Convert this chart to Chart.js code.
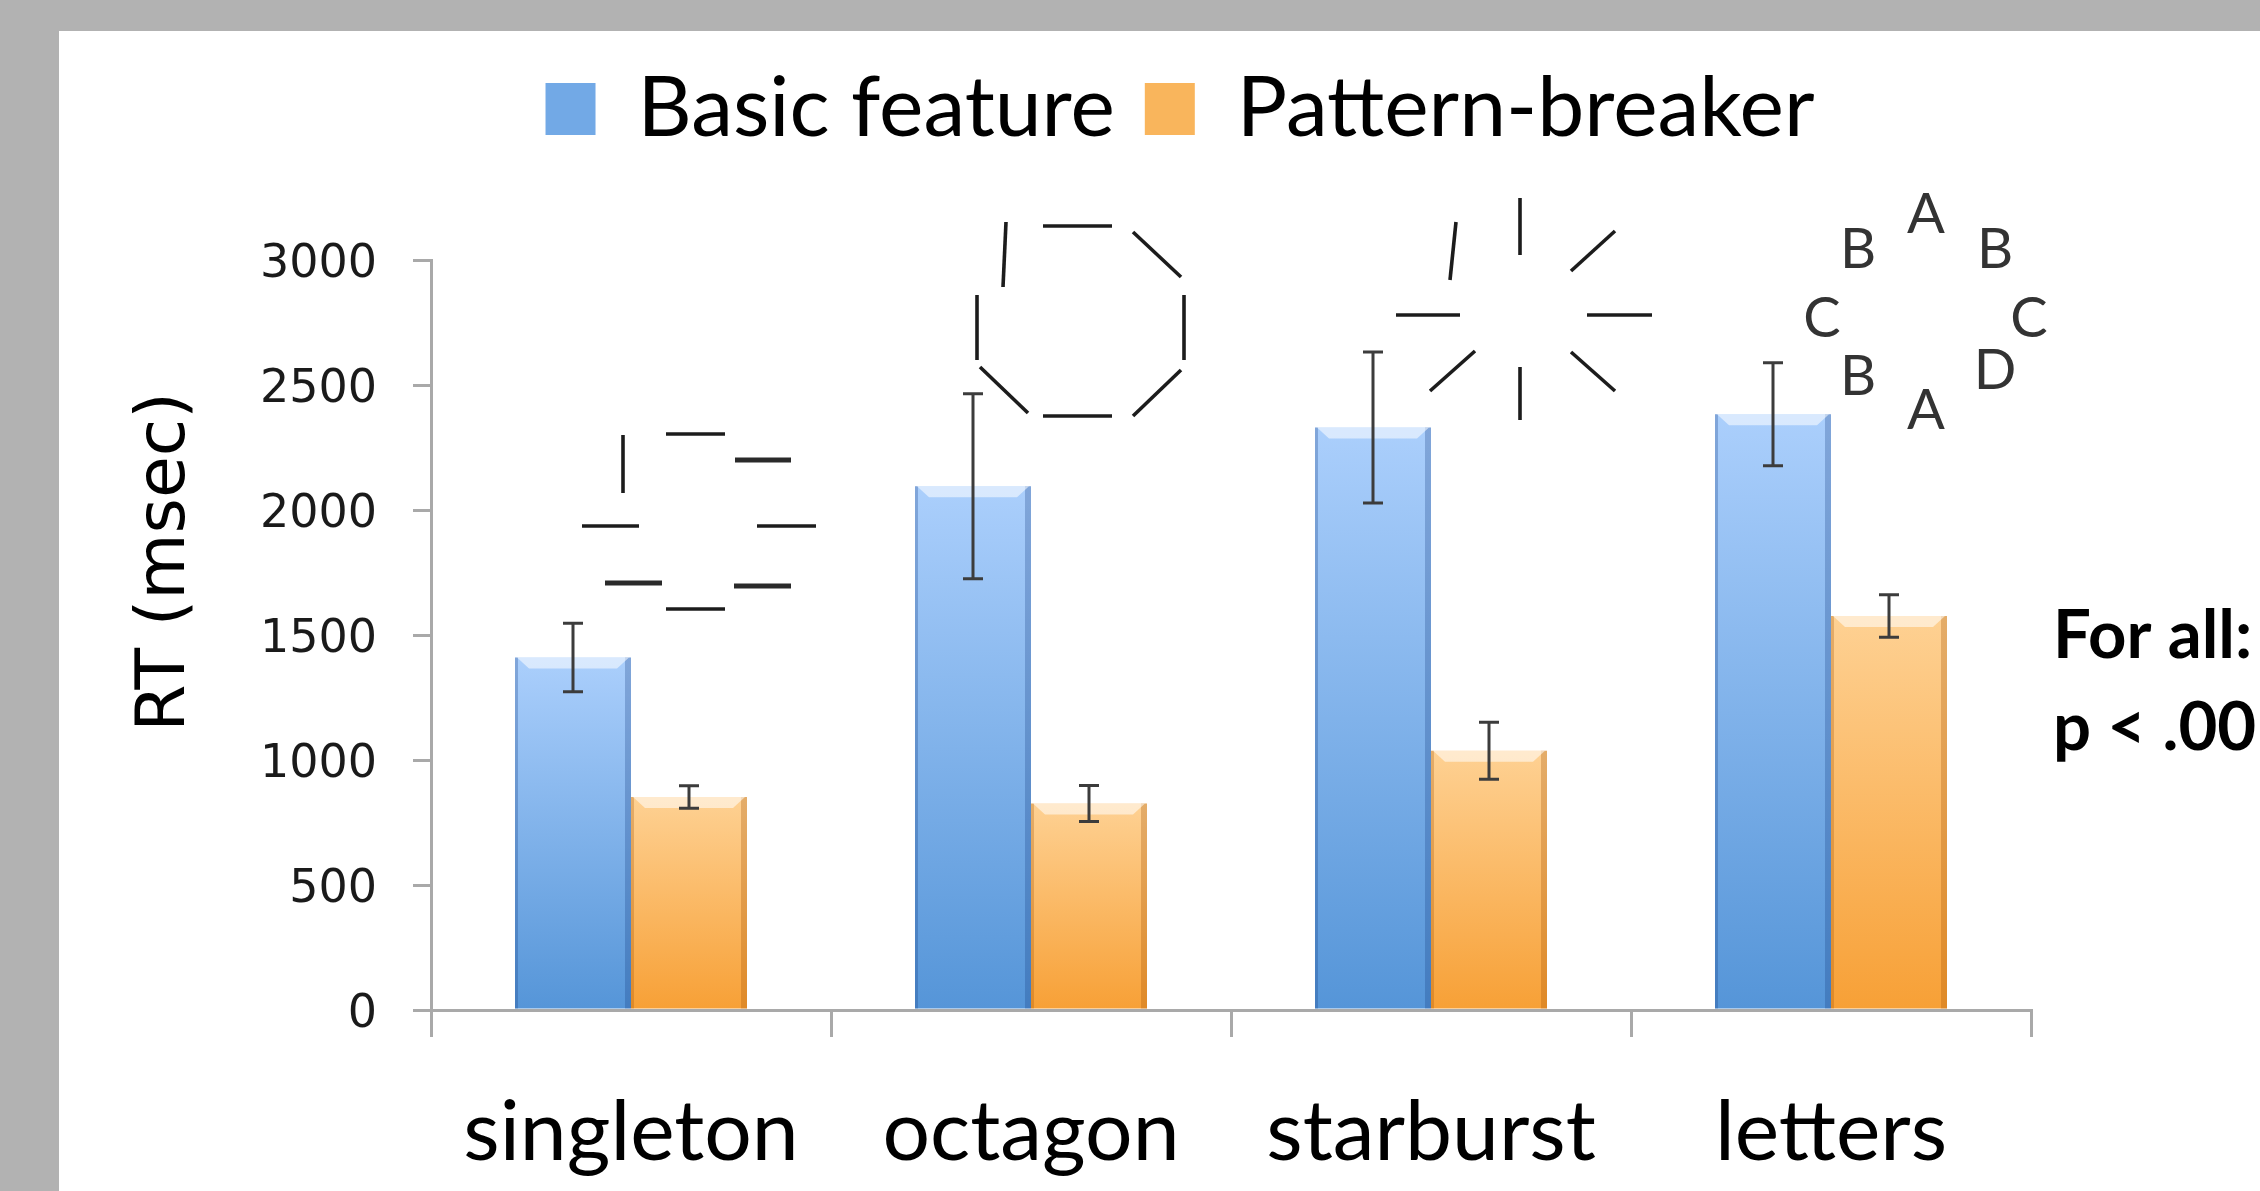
<!DOCTYPE html>
<html><head><meta charset="utf-8">
<script src="https://cdn.jsdelivr.net/npm/chart.js@4.4.1/dist/chart.umd.min.js"></script>
<style>html,body{margin:0;padding:0;background:#b2b2b2;overflow:hidden}canvas{display:block}</style>
</head><body>
<canvas id="c" width="2260" height="1191" style="width:2260px;height:1191px"></canvas>
<script>
// ---- data ----
const categories = ['singleton', 'octagon', 'starburst', 'letters'];
const seriesNames = ['Basic feature', 'Pattern-breaker'];
const basicFeature = [1410, 2095, 2330, 2383];
const basicFeatureErr = [137, 370, 302, 206];
const patternBreaker = [852, 826, 1037, 1576];
const patternBreakerErr = [45, 72, 114, 85];
const yTicks = [0, 500, 1000, 1500, 2000, 2500, 3000];
const yTitle = 'RT (msec)';
const noteLines = ['For all:', 'p < .001'];

// ---- styles ----
const BLUE = {top: '#abcffc', bottom: '#5595d8', legend: '#72a9e6', edge: 'rgba(20,60,130,0.28)'};
const ORANGE = {top: '#fed193', bottom: '#f7a036', legend: '#f9b55c', edge: 'rgba(160,80,0,0.28)'};
const AXIS = '#a9a9a9';

// stimulus pictograms (decoration), anchored to a category and a value on the y scale
const stimuli = [
  {cat: 0, dx: 68, val: 1952, segs: [
    [[-76,-87],[-76,-29]], [[-33,-88],[26,-88]], [[36,-62],[92,-62],1], [[-117,4],[-60,4]],
    [[58,4],[117,4]], [[-94,61],[-37,61],1], [[-33,87],[26,87]], [[35,64],[92,64],1]]},
  {cat: 1, dx: 49, val: 2756, segs: [
    [[-74,-99],[-77,-34]], [[-37,-95],[32,-95]], [[53,-89],[101,-44]], [[104,-26],[104,39]],
    [[101,49],[53,95]], [[-37,95],[32,95]], [[-52,92],[-100,46]], [[-103,-26],[-103,39]]]},
  {cat: 2, dx: 92, val: 2800, segs: [
    [[-67,-88],[-73,-30]], [[-3,-112],[-3,-55]], [[92,-79],[48,-39]], [[-127,5],[-63,5]],
    [[64,5],[129,5]], [[-48,41],[-93,81]], [[-3,57],[-3,110]], [[48,42],[92,81]]]},
  {cat: 3, dx: 95, val: 2792, letters: [
    ['A',0,-79], ['B',-68,-44], ['B',69,-44], ['C',-104,25], ['C',103,25], ['B',-68,83], ['D',69,77], ['A',0,117]]}
];

function barGradient(ctx, pal) {
  const chart = ctx.chart;
  const ys = chart.scales && chart.scales.y;
  if (!ys || !chart.chartArea || ctx.raw === undefined) return pal.legend;
  const top = ys.getPixelForValue(ctx.raw);
  const base = ys.getPixelForValue(0);
  if (!isFinite(top) || !isFinite(base) || base - top < 1) return pal.legend;
  const g = chart.ctx.createLinearGradient(0, top, 0, base);
  g.addColorStop(0, pal.top);
  g.addColorStop(1, pal.bottom);
  return g;
}

const framePlugin = {
  id: 'frame',
  beforeDraw(chart) {
    const c = chart.ctx;
    c.save();
    c.fillStyle = '#b2b2b2';
    c.fillRect(0, 0, chart.width, chart.height);
    c.fillStyle = '#ffffff';
    c.fillRect(59, 31, chart.width - 59, chart.height - 31);
    c.restore();
  }
};

const barDecorPlugin = {
  id: 'barDecor',
  afterDatasetsDraw(chart) {
    const c = chart.ctx;
    const ys = chart.scales.y;
    const errs = [basicFeatureErr, patternBreakerErr];
    const pals = [BLUE, ORANGE];
    chart.data.datasets.forEach((ds, di) => {
      const meta = chart.getDatasetMeta(di);
      meta.data.forEach((bar, i) => {
        const p = bar.getProps(['x', 'y', 'base', 'width'], true);
        const x0 = p.x - p.width / 2, x1 = p.x + p.width / 2;
        const top = p.y, base = p.base;
        c.save();
        c.fillStyle = pals[di].edge;
        c.fillRect(x0, top, 3, base - top);
        c.fillRect(x1 - 6, top, 6, base - top);
        c.fillStyle = 'rgba(255,255,255,0.55)';
        c.beginPath();
        c.moveTo(x0 + 2, top);
        c.lineTo(x1 - 2, top);
        c.lineTo(x1 - 14, top + 11);
        c.lineTo(x0 + 14, top + 11);
        c.closePath();
        c.fill();
        const v = ds.data[i], e = errs[di][i];
        const yHi = ys.getPixelForValue(v + e), yLo = ys.getPixelForValue(v - e);
        c.strokeStyle = '#3c3c3c';
        c.lineWidth = 3;
        c.beginPath();
        c.moveTo(p.x, yHi); c.lineTo(p.x, yLo);
        c.moveTo(p.x - 10, yHi); c.lineTo(p.x + 10, yHi);
        c.moveTo(p.x - 10, yLo); c.lineTo(p.x + 10, yLo);
        c.stroke();
        c.restore();
      });
    });
  }
};

const annotPlugin = {
  id: 'annot',
  afterDraw(chart) {
    const c = chart.ctx;
    const xs = chart.scales.x, ys = chart.scales.y;
    const area = chart.chartArea;
    c.save();
    stimuli.forEach(s => {
      const cx = xs.getPixelForValue(s.cat) + s.dx;
      const cy = ys.getPixelForValue(s.val);
      if (s.segs) {
        s.segs.forEach(seg => {
          c.beginPath();
          c.strokeStyle = seg[2] ? '#2a2a2a' : '#1c1c1c';
          c.lineWidth = seg[2] ? 5 : 3.6;
          c.moveTo(cx + seg[0][0], cy + seg[0][1]);
          c.lineTo(cx + seg[1][0], cy + seg[1][1]);
          c.stroke();
        });
      }
      if (s.letters) {
        c.fillStyle = '#333333';
        c.font = '56px Lato';
        c.textAlign = 'center';
        c.textBaseline = 'alphabetic';
        s.letters.forEach(l => c.fillText(l[0], cx + l[1], cy + l[2]));
      }
    });
    c.fillStyle = '#000000';
    c.font = '68px "DejaVu Sans"';
    c.textAlign = 'center';
    c.textBaseline = 'middle';
    c.translate(area.left - 265, area.top + 302);
    c.rotate(-Math.PI / 2);
    c.fillText(yTitle, 0, 0);
    c.restore();
    c.save();
    c.fillStyle = '#000000';
    c.font = 'bold 67px Lato';
    c.textAlign = 'left';
    c.textBaseline = 'alphabetic';
    c.fillText(noteLines[0], area.right + 22, area.top + 398);
    c.fillText(noteLines[1], area.right + 22, area.top + 490);
    c.restore();
  }
};

function build() {
  new Chart(document.getElementById('c'), {
    type: 'bar',
    data: {
      labels: categories,
      datasets: [
        {label: seriesNames[0], data: basicFeature, xAxisID: 'x', yAxisID: 'y',
         backgroundColor: ctx => barGradient(ctx, BLUE), borderWidth: 0,
         categoryPercentage: 0.58, barPercentage: 1.0},
        {label: seriesNames[1], data: patternBreaker, xAxisID: 'x', yAxisID: 'y',
         backgroundColor: ctx => barGradient(ctx, ORANGE), borderWidth: 0,
         categoryPercentage: 0.58, barPercentage: 1.0}
      ]
    },
    options: {
      responsive: false,
      animation: false,
      devicePixelRatio: 1,
      layout: {padding: {left: 100, right: 0, top: 37, bottom: 0}},
      plugins: {
        tooltip: {enabled: false},
        legend: {
          display: true,
          position: 'top',
          align: 'center',
          labels: {
            font: {family: 'Lato', size: 84},
            color: '#000000',
            boxWidth: 50,
            boxHeight: 52,
            padding: 30,
            generateLabels: () => [
              {text: seriesNames[0], fillStyle: BLUE.legend, strokeStyle: BLUE.legend, lineWidth: 0, datasetIndex: 0, hidden: false},
              {text: seriesNames[1], fillStyle: ORANGE.legend, strokeStyle: ORANGE.legend, lineWidth: 0, datasetIndex: 1, hidden: false}
            ]
          }
        }
      },
      scales: {
        x: {
          type: 'category',
          position: 'bottom',
          offset: true,
          grid: {display: true, drawOnChartArea: false, drawTicks: true, tickLength: 27, color: AXIS, lineWidth: 3, offset: true},
          border: {display: true, color: AXIS, width: 3},
          ticks: {font: {family: 'Lato', size: 84}, color: '#000000', padding: 46, maxRotation: 0, autoSkip: false},
          afterFit(s) { s.height = 181; }
        },
        xTop: {
          type: 'category',
          position: 'top',
          display: true,
          grid: {display: false},
          border: {display: false},
          ticks: {display: false},
          afterFit(s) { s.height = 99; }
        },
        yRight: {
          type: 'linear',
          position: 'right',
          display: true,
          grid: {display: false},
          border: {display: false},
          ticks: {display: false},
          afterFit(s) { s.width = 229; }
        },
        y: {
          type: 'linear',
          position: 'left',
          min: yTicks[0],
          max: yTicks[yTicks.length - 1],
          grid: {display: true, drawOnChartArea: false, drawTicks: true, tickLength: 18, color: AXIS, lineWidth: 3},
          border: {display: true, color: AXIS, width: 3},
          ticks: {stepSize: yTicks[1] - yTicks[0], font: {family: 'DejaVu Sans', size: 46}, color: '#1a1a1a',
                  padding: 36, labelOffset: 5, callback: v => String(v)},
          afterFit(s) { s.width = 331; }
        }
      }
    },
    plugins: [framePlugin, barDecorPlugin, annotPlugin]
  });
}

const fontsToLoad = ['84px Lato', 'bold 67px Lato', '46px "DejaVu Sans"', '68px "DejaVu Sans"'];
Promise.all(fontsToLoad.map(f => document.fonts.load(f).catch(() => null))).then(build, build);
</script>
</body></html>
